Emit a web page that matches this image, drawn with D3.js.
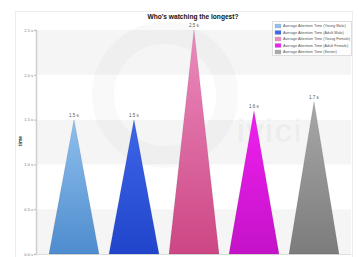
<!DOCTYPE html>
<html>
<head>
<meta charset="utf-8">
<script src="https://cdn.jsdelivr.net/npm/d3@7"></script>
<style>
  body { margin: 0; background: #fff; }
  text { font-family: "Liberation Sans", Arial, sans-serif; }
</style>
</head>
<body>
<div id="chart"></div>
<script>
var width = 358, height = 257;

// data
var categories = ["Young Male", "Adult Male", "Young Female", "Adult Female", "Senior"];
var values = [1.5, 1.5, 2.5, 1.6, 1.7];
var seriesNames = categories.map(c => "Average Attention Time (" + c + ")");
var yTicks = [0, 0.5, 1, 1.5, 2, 2.5];
var colorsTop = ["#8fc0ee", "#3e66e8", "#ec8cbe", "#f020f0", "#a8a8a8"];
var colorsBottom = ["#4e8cce", "#2045cc", "#cc4684", "#c412c8", "#7c7c7c"];

var plot = {left: 36, right: 351, top: 30, bottom: 254};

var svg = d3.select("#chart").append("svg").attr("width", width).attr("height", height)

// outer frame
svg.append("rect").attr("x", 15.5).attr("y", 11.5).attr("width", 337).attr("height", 250)
    .style("fill", "#fff").style("stroke", "#ececec")

var y = d3.scaleLinear().domain([0, 2.5]).range([plot.bottom, plot.top])
var x = d3.scaleBand().domain(categories).range([44, 344]).paddingInner(10/60).paddingOuter(5/60)

// alternating bands
var bands = d3.range(0, 2.5, 0.5)
svg.selectAll(".band").data(bands).join("rect")
    .attr("x", plot.left).attr("width", plot.right - plot.left)
    .attr("y", d => y(d + 0.5)).attr("height", d => y(d) - y(d + 0.5))
    .style("fill", (d, i) => i % 2 == 0 ? "#f5f5f5" : "#fff")

// watermark (very faint)
var wm = svg.append("g")
wm.append("circle").attr("cx", 165).attr("cy", 95).attr("r", 62)
    .style("fill", "none").style("stroke", "#000").style("stroke-opacity", 0.025).style("stroke-width", 22)
wm.append("text").attr("x", 236).attr("y", 142).text("ivici")
    .style("font-size", "34px").style("fill", "#000").style("fill-opacity", 0.03).style("font-weight", "bold")

// y axis
var yAxis = d3.axisLeft(y).tickValues(yTicks).tickSize(2).tickFormat(d => d3.format(".1f")(d) + " s")
var ga = svg.append("g").attr("transform", "translate(" + plot.left + ",0)").call(yAxis)
ga.select(".domain").style("stroke", "#d0d0d0").style("stroke-width", 1.5)
ga.selectAll(".tick line").style("stroke", "#bbb")
ga.selectAll(".tick text").style("font-size", "4px").style("fill", "#777").attr("x", -3)

svg.append("line").attr("x1", plot.left).attr("x2", plot.right)
    .attr("y1", plot.bottom + 0.5).attr("y2", plot.bottom + 0.5).style("stroke", "#ddd")

svg.append("text").attr("transform", "translate(22," + 141 + ") rotate(-90)")
    .attr("text-anchor", "middle").text("time")
    .style("font-size", "5px").style("font-weight", "bold").style("fill", "#333")

// gradients
var defs = svg.append("defs")
categories.forEach((c, i) => {
    var g = defs.append("linearGradient").attr("id", "grad" + i)
        .attr("x1", 0).attr("y1", 0).attr("x2", 0).attr("y2", 1)
    g.append("stop").attr("offset", "0%").attr("stop-color", colorsTop[i])
    g.append("stop").attr("offset", "100%").attr("stop-color", colorsBottom[i])
})

// triangles
svg.selectAll(".tri").data(values).join("path")
    .attr("d", (d, i) => {
        var x0 = x(categories[i]), x1 = x0 + x.bandwidth(), xm = x0 + x.bandwidth() / 2
        return "M" + x0 + "," + y(0) + "L" + xm + "," + y(d) + "L" + x1 + "," + y(0) + "Z"
    })
    .style("fill", (d, i) => "url(#grad" + i + ")")
    .style("stroke", "rgba(0,0,0,0.15)").style("stroke-width", 0.6)

svg.selectAll(".lbl").data(values).join("text")
    .attr("x", (d, i) => x(categories[i]) + x.bandwidth() / 2)
    .attr("y", d => y(d) - 3)
    .attr("text-anchor", "middle")
    .text(d => d3.format(".1f")(d) + " s")
    .style("font-size", "4.5px").style("fill", "#555")

// title
svg.append("text").attr("x", 193).attr("y", 19).attr("text-anchor", "middle")
    .text("Who's watching the longest?")
    .style("font-size", "6.6px").style("font-weight", "bold").style("fill", "#111")

// legend
var lg = svg.append("g")
lg.append("rect").attr("x", 272.5).attr("y", 21.5).attr("width", 79).attr("height", 34)
    .style("fill", "#fff").style("fill-opacity", 0.85).style("stroke", "#ddd")
seriesNames.forEach((s, i) => {
    var yy = 26 + i * 6.5
    lg.append("rect").attr("x", 275).attr("y", yy - 2).attr("width", 6).attr("height", 4)
        .style("fill", colorsTop[i]).style("stroke", "#aaa").style("stroke-width", 0.3)
    lg.append("text").attr("x", 283).attr("y", yy + 1.4).text(s)
        .style("font-size", "3.8px").style("fill", "#555")
})
</script>
</body>
</html>
